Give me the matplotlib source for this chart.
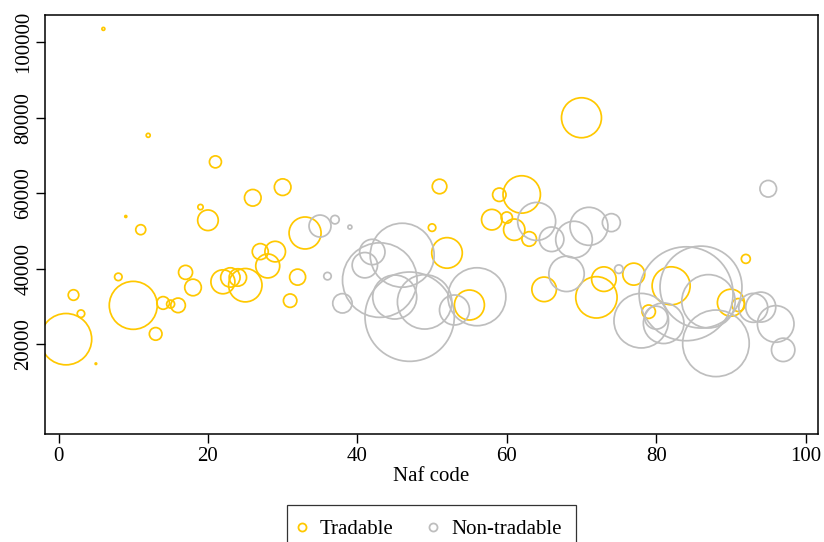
import matplotlib.pyplot as plt
from matplotlib.lines import Line2D

# Données : code NAF, salaire moyen, poids (taille des bulles)
naf_trad = [1, 2, 3, 5, 6, 8, 9, 10, 11, 12, 13, 14, 15, 16, 17, 18, 19, 20,
            21, 22, 23, 24, 25, 26, 27, 28, 29, 30, 31, 32, 33, 50, 51, 52, 55,
            58, 59, 60, 61, 62, 63, 65, 70, 72, 73, 77, 79, 82, 90, 91, 92]
sal_trad = [21300, 33000, 28050, 14800, 103500, 37800, 53800, 30260, 50300,
            75300, 22700, 30900, 30600, 30260, 39000, 35000, 56300, 52800,
            68270, 36500, 37650, 37650, 35600, 58760, 44500, 40700, 44500,
            61570, 31500, 37740, 49430, 50850, 61750, 44150, 30350, 52960,
            59560, 53500, 50300, 59640, 47850, 34500, 79960, 32380, 37200,
            38530, 28580, 35440, 30960, 30350, 42570]
poids_trad = [660, 28, 14, 0.6, 2.2, 14, 1, 576, 25, 4, 40, 40, 16, 53, 49, 69,
              7, 106, 36, 144, 94, 76, 279, 69, 64, 144, 106, 69, 45, 64, 256,
              14, 53, 234, 225, 106, 45, 32, 114, 350, 53, 151, 400, 428, 151,
              121, 45, 361, 182, 42, 20]

naf_non = [35, 36, 37, 38, 39, 41, 42, 43, 45, 46, 47, 49, 53, 56, 64, 66, 68,
           69, 71, 74, 75, 78, 80, 81, 84, 86, 87, 88, 93, 94, 95, 96, 97]
sal_non = [51270, 38000, 52960, 30800, 51000, 40900, 44400, 36950, 32460,
           43540, 27260, 31180, 29030, 32540, 52500, 47760, 38600, 47690,
           51200, 52170, 39850, 26200, 27000, 25520, 33330, 35100, 31330,
           20200, 29600, 29800, 61150, 25330, 18470]
poids_non = [121, 14, 18, 94, 4, 161, 161, 1391, 484, 1024, 1998, 740, 225, 841,
             361, 151, 313, 335, 361, 81, 18, 745, 132, 412, 2209, 1681, 713,
             1109, 210, 225, 69, 335, 137]

jaune = '#FFC800'
gris = '#BEBEBE'
echelle = 2.07

plt.rcParams['font.family'] = ['Liberation Serif', 'DejaVu Serif']

fig = plt.figure(figsize=(8.24, 5.42), dpi=100)
ax = fig.add_axes([0.0542, 0.1993, 0.9385, 0.7736])

ax.scatter(naf_trad, sal_trad, s=[p * echelle for p in poids_trad],
           facecolors='none', edgecolors=jaune, linewidths=1.25)
ax.scatter(naf_non, sal_non, s=[p * echelle for p in poids_non],
           facecolors='none', edgecolors=gris, linewidths=1.25)

ax.set_xlim(-1.86, 101.66)
ax.set_ylim(-3815, 107260)
ax.set_xticks([0, 20, 40, 60, 80, 100])
ax.set_yticks([20000, 40000, 60000, 80000, 100000])
ax.tick_params(axis='both', labelsize=15, length=6.3, width=1, color='black')
ax.tick_params(axis='x', pad=3)
ax.tick_params(axis='y', pad=2)
for lab in ax.get_yticklabels():
    lab.set_rotation(90)
    lab.set_va('center')
ax.set_xlabel("Naf code", fontsize=15, labelpad=1)
for sp in ax.spines.values():
    sp.set_linewidth(1.1)
    sp.set_color('black')

# Légende
poignees = [Line2D([], [], marker='o', linestyle='none', markersize=5.8,
                   markerfacecolor='none', markeredgecolor=jaune, markeredgewidth=1.3),
            Line2D([], [], marker='o', linestyle='none', markersize=5.8,
                   markerfacecolor='none', markeredgecolor=gris, markeredgewidth=1.3)]
leg = fig.legend(poignees, ["Tradable", "Non-tradable"], ncol=2,
                 loc='upper center', bbox_to_anchor=(0.5235, 1 - 505 / 542),
                 fontsize=15, frameon=True, fancybox=False, handlelength=0.05,
                 handletextpad=0.85, columnspacing=1.85, borderpad=0.69,
                 borderaxespad=0)
leg.get_frame().set_edgecolor('black')
leg.get_frame().set_linewidth(0.9)

fig.savefig("out.png", dpi=100)
